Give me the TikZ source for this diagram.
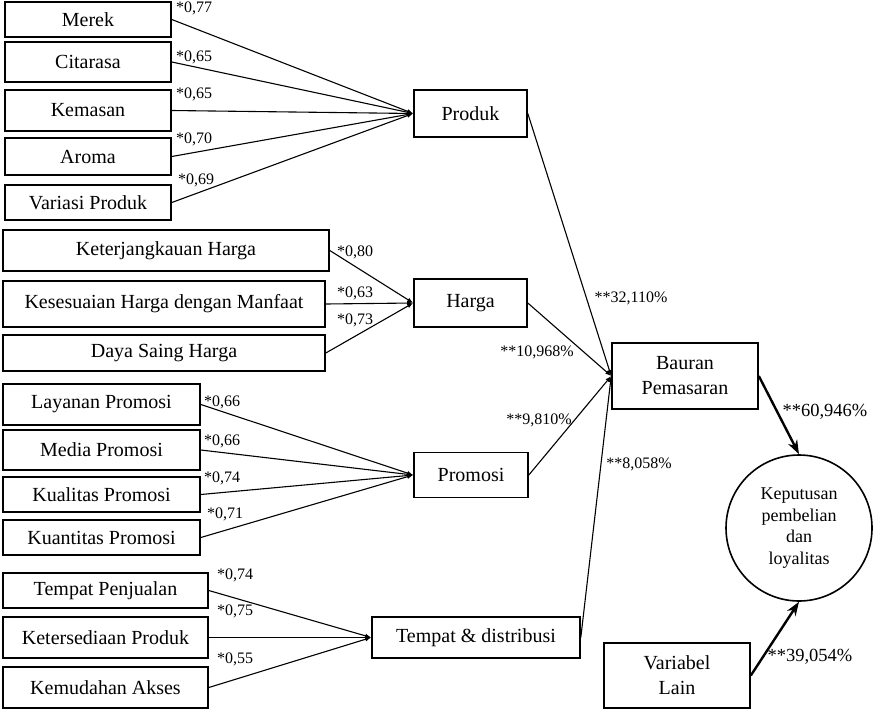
\documentclass[tikz,border=0pt]{standalone}
\usepackage{fontspec}
\setmainfont{Liberation Serif}
\usetikzlibrary{arrows.meta}

\begin{document}
\begin{tikzpicture}
[x=1pt,y=-1pt,%
  box/.style={shape=rectangle,draw,line width=1.6pt,inner sep=0pt,align=center,font=\fontsize{20}{25}\selectfont},%
  wgt/.style={inner sep=0pt,font=\fontsize{16}{18}\selectfont},%
  pct/.style={inner sep=0pt,font=\fontsize{18.5}{20}\selectfont},%
  link/.style={line width=1.1pt,-{Latex[length=6pt,width=4.5pt]}},%
  bigarrow/.style={line width=2.4pt,-{Stealth[length=14pt,width=10pt]}}]
\useasboundingbox (0,0) rectangle (874,709);
\node[box,minimum width=166pt,minimum height=35pt] (merek) at (88,19.5) {Merek};
\node[box,minimum width=166pt,minimum height=40pt] (citarasa) at (88,62) {Citarasa};
\node[box,minimum width=166pt,minimum height=41pt] (kemasan) at (88,110.5) {Kemasan};
\node[box,minimum width=166pt,minimum height=37pt] (aroma) at (88,156.5) {Aroma};
\node[box,minimum width=166pt,minimum height=35pt] (variasi) at (88,202.5) {Variasi Produk};
\node[box,minimum width=113pt,minimum height=47pt] (produk) at (470.5,113.5) {Produk};
\node[box,minimum width=326pt,minimum height=41pt] (keterjangkauan) at (166,250.5) {Keterjangkauan Harga};
\node[box,minimum width=322pt,minimum height=46pt] (kesesuaian) at (164,304) {Kesesuaian Harga dengan Manfaat};
\node[box,minimum width=322pt,minimum height=36pt] (dayasaing) at (164,353) {Daya Saing Harga};
\node[box,minimum width=113pt,minimum height=48pt] (harga) at (470.5,303) {Harga};
\node[box,minimum width=197pt,minimum height=41pt] (layanan) at (101.5,404.5) {Layanan Promosi};
\node[box,minimum width=197pt,minimum height=40pt] (media) at (101.5,450) {Media Promosi};
\node[box,minimum width=197pt,minimum height=35pt] (kualitas) at (101.5,494.5) {Kualitas Promosi};
\node[box,minimum width=197pt,minimum height=35pt] (kuantitas) at (101.5,537.5) {Kuantitas Promosi};
\node[box,minimum width=114pt,minimum height=45pt] (promosi) at (471,475) {Promosi};
\node[box,minimum width=205pt,minimum height=35pt] (penjualan) at (105.5,590.5) {Tempat Penjualan};
\node[box,minimum width=205pt,minimum height=41pt] (ketersediaan) at (105.5,637.5) {Ketersediaan Produk};
\node[box,minimum width=205pt,minimum height=41pt] (kemudahan) at (105.5,687.5) {Kemudahan Akses};
\node[box,minimum width=208pt,minimum height=41pt] (tempat) at (476,637.5) {Tempat \& distribusi};
\node[box,minimum width=146pt,minimum height=66pt] (bauran) at (685,376) {Bauran\\Pemasaran};
\node[box,shape=circle,minimum size=146pt,font=\fontsize{18}{21.7}\selectfont] (keputusan) at (799,528) {Keputusan\\pembelian\\dan\\loyalitas};
\node[box,minimum width=146pt,minimum height=65pt] (lain) at (677,675.5) {Variabel\\Lain};
\draw[link] (merek.east) -- (produk.west);
\draw[link] (citarasa.east) -- (produk.west);
\draw[link] (kemasan.east) -- (produk.west);
\draw[link] (aroma.east) -- (produk.west);
\draw[link] (variasi.east) -- (produk.west);
\draw[link] (keterjangkauan.east) -- (harga.west);
\draw[link] (kesesuaian.east) -- (harga.west);
\draw[link] (dayasaing.east) -- (harga.west);
\draw[link] (layanan.east) -- (promosi.west);
\draw[link] (media.east) -- (promosi.west);
\draw[link] (kualitas.east) -- (promosi.west);
\draw[link] (kuantitas.east) -- (promosi.west);
\draw[link] (penjualan.east) -- (tempat.west);
\draw[link] (ketersediaan.east) -- (tempat.west);
\draw[link] (kemudahan.east) -- (tempat.west);
\draw[link] (produk.east) -- (bauran.west);
\draw[link] (harga.east) -- (bauran.west);
\draw[link] (promosi.east) -- (bauran.west);
\draw[link] (tempat.east) -- (bauran.west);
\draw[bigarrow] (bauran.east) -- (keputusan.north);
\draw[bigarrow] (lain.east) -- (keputusan.south);
\node[wgt] (w1) at (194,8) {*0,77};
\node[wgt] (w2) at (194,57) {*0,65};
\node[wgt] (w3) at (194,94) {*0,65};
\node[wgt] (w4) at (194,139) {*0,70};
\node[wgt] (w5) at (196,180) {*0,69};
\node[wgt] (w6) at (355,252) {*0,80};
\node[wgt] (w7) at (355,293) {*0,63};
\node[wgt] (w8) at (355,320) {*0,73};
\node[wgt] (w9) at (222,402) {*0,66};
\node[wgt] (w10) at (222,441) {*0,66};
\node[wgt] (w11) at (222,478) {*0,74};
\node[wgt] (w12) at (225,514) {*0,71};
\node[wgt] (w13) at (235,575) {*0,74};
\node[wgt] (w14) at (235,611) {*0,75};
\node[wgt] (w15) at (235,659) {*0,55};
\node[wgt] (p1) at (631,298) {**32,110\%};
\node[wgt] (p2) at (537,352) {**10,968\%};
\node[wgt] (p3) at (539,420) {**9,810\%};
\node[wgt] (p4) at (639,464) {**8,058\%};
\node[pct] (p5) at (825,412) {**60,946\%};
\node[pct] (p6) at (810,657) {**39,054\%};
\end{tikzpicture}
\end{document}
